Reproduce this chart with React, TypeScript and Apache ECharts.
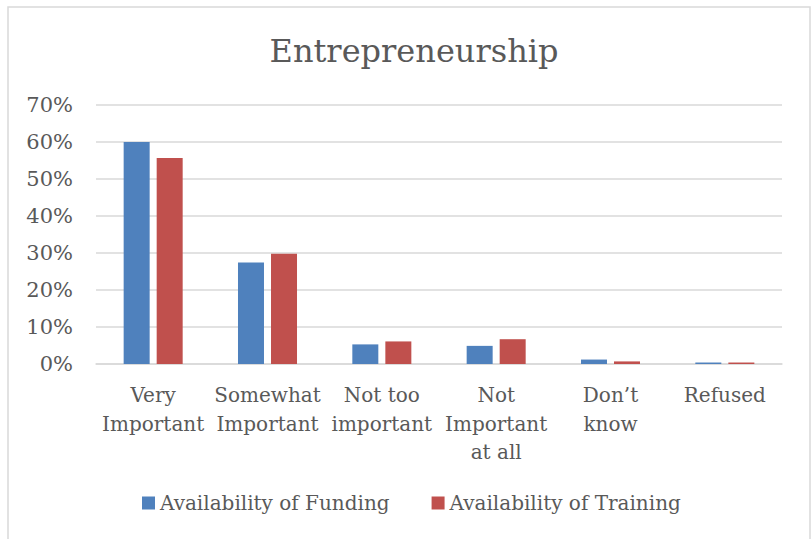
import React, { useEffect, useRef } from "react";
import * as echarts from "echarts";

const categories = [
  "Very\nImportant",
  "Somewhat\nImportant",
  "Not too\nimportant",
  "Not\nImportant\nat all",
  "Don\u2019t\nknow",
  "Refused",
];
const funding = [60.0, 27.4, 5.3, 4.9, 1.2, 0.4];
const training = [55.7, 29.8, 6.1, 6.7, 0.7, 0.4];
const seriesNames = ["Availability of Funding", "Availability of Training"];
const yTicks = { min: 0, max: 70, interval: 10 };

const FONT = "'DejaVu Serif', serif";
const TEXT = "#595959";

export default function App() {
  const ref = useRef<HTMLDivElement>(null);
  useEffect(() => {
    if (!ref.current) return;
    const chart = echarts.init(ref.current, null, { renderer: "svg" });
    chart.setOption({
      animation: false,
      backgroundColor: "#ffffff",
      textStyle: { fontFamily: FONT, color: TEXT },
      graphic: [
        {
          type: "rect",
          shape: { x: 8, y: 7, width: 802, height: 545 },
          style: { fill: "none", stroke: "#d9d9d9", lineWidth: 1.5 },
          silent: true,
          z: -1,
        },
      ],
      title: {
        text: "Entrepreneurship",
        left: 409,
        textAlign: "center",
        top: 30,
        textStyle: { fontFamily: FONT, fontSize: 32, fontWeight: "normal", color: TEXT },
      },
      legend: {
        bottom: 21,
        left: 137,
        itemWidth: 13,
        itemHeight: 13,
        itemGap: 42,
        icon: "rect",
        textStyle: { fontFamily: FONT, fontSize: 20, color: TEXT, padding: [0, 0, 0, 0] },
        data: seriesNames,
      },
      grid: { left: 96, right: 30, top: 105, bottom: 175, containLabel: false },
      xAxis: {
        type: "category",
        data: categories,
        axisLine: { show: true, lineStyle: { color: "#d9d9d9", width: 1.5 } },
        axisTick: { show: false },
        axisLabel: {
          interval: 0,
          margin: 17,
          fontFamily: FONT,
          fontSize: 20,
          lineHeight: 28.5,
          color: TEXT,
          align: "center",
        },
      },
      yAxis: {
        type: "value",
        min: yTicks.min,
        max: yTicks.max,
        interval: yTicks.interval,
        axisLine: { show: false },
        axisTick: { show: false },
        splitLine: { lineStyle: { color: "#d9d9d9", width: 1.5 } },
        axisLabel: {
          margin: 23,
          fontFamily: FONT,
          fontSize: 21,
          color: TEXT,
          formatter: "{value}%",
        },
      },
      series: [
        {
          name: seriesNames[0],
          type: "bar",
          data: funding,
          barWidth: 26,
          barGap: "27%",
          itemStyle: { color: "#4f81bd" },
        },
        {
          name: seriesNames[1],
          type: "bar",
          data: training,
          barWidth: 26,
          barGap: "27%",
          itemStyle: { color: "#c0504d" },
        },
      ],
    });
    return () => chart.dispose();
  }, []);
  return (
    <div
      ref={ref}
      style={{ position: "absolute", left: 0, top: 0, width: 812, height: 539 }}
    />
  );
}
